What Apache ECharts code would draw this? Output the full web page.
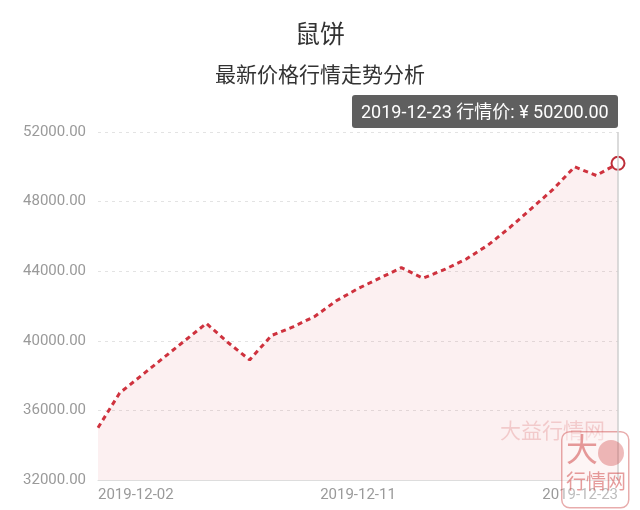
<!DOCTYPE html>
<html>
<head>
<meta charset="utf-8">
<script src="https://cdn.jsdelivr.net/npm/echarts@6/dist/echarts.min.js"></script>
<style>
html,body{margin:0;padding:0;background:#fff;}
#chart{width:640px;height:510px;}
</style>
</head>
<body>
<div id="chart"></div>
<script>
var titleText = '鼠饼';
var subTitleText = '最新价格行情走势分析';
var dates = ['2019-12-02','2019-12-02','2019-12-03','2019-12-03','2019-12-04','2019-12-05','2019-12-05','2019-12-06','2019-12-07','2019-12-08','2019-12-09','2019-12-10','2019-12-11','2019-12-12','2019-12-13','2019-12-14','2019-12-15','2019-12-16','2019-12-17','2019-12-18','2019-12-19','2019-12-20','2019-12-21','2019-12-22','2019-12-23'];
var prices = [35000,37000,38000,39000,40000,41000,39900,38900,40300,40800,41400,42300,43000,43600,44200,43600,44100,44700,45500,46500,47600,48700,50000,49500,50200];
var shownLabelIdx = [0,12,24];
var yMin = 32000, yMax = 52000, yStep = 4000;
var priceLabel = '行情价';
var watermarkText = '大益行情网';

var FONT = 'Roboto, "Noto Sans CJK SC", sans-serif';
var RED = '#bd2e39';
var chart = echarts.init(document.getElementById('chart'));
chart.setOption({
  animation: false,
  title: [
    {text: titleText, left: 'center', top: 19, textStyle: {fontSize: 25, fontWeight: 'normal', color: '#333', fontFamily: FONT}},
    {text: subTitleText, left: 'center', top: 61, textStyle: {fontSize: 21, fontWeight: 'normal', color: '#333', fontFamily: FONT}}
  ],
  grid: {left: 98, right: 22, top: 132, bottom: 30},
  tooltip: {
    trigger: 'axis',
    alwaysShowContent: true,
    transitionDuration: 0,
    backgroundColor: 'rgba(90,90,90,0.97)',
    borderWidth: 0,
    padding: [4, 9],
    textStyle: {color: '#fff', fontSize: 18, fontFamily: FONT, lineHeight: 25},
    extraCssText: 'border-radius:3px;box-shadow:none;line-height:25px;',
    axisPointer: {type: 'line', lineStyle: {color: '#cfcfcf', width: 1.5, type: 'solid'}},
    position: function (point, params, dom, rect, size) {
      return [618 - size.contentSize[0], 95];
    },
    formatter: function (params) {
      var p = params[0];
      return dates[p.dataIndex] + ' ' + priceLabel + ': ¥ ' + Number(p.value).toFixed(2);
    }
  },
  xAxis: {
    type: 'category',
    boundaryGap: false,
    data: dates,
    axisLine: {lineStyle: {color: '#dddddd', width: 1}},
    axisTick: {show: false},
    axisLabel: {
      interval: function (i) { return shownLabelIdx.indexOf(i) >= 0; },
      alignMinLabel: 'left',
      alignMaxLabel: 'right',
      color: '#9a9a9a',
      fontSize: 15,
      margin: 8,
      fontFamily: FONT
    },
    splitLine: {show: false}
  },
  yAxis: {
    type: 'value',
    min: yMin,
    max: yMax,
    interval: yStep,
    axisLine: {show: false},
    axisTick: {show: false},
    axisLabel: {
      formatter: function (v) { return v.toFixed(2); },
      color: '#9a9a9a',
      fontSize: 15,
      margin: 12,
      fontFamily: FONT
    },
    splitLine: {lineStyle: {color: '#e3e3e3', type: [3, 4], width: 1}}
  },
  graphic: [
    {type: 'text', left: 500, top: 422, z: 50, style: {text: watermarkText, fontSize: 21, fontFamily: FONT, fill: 'rgba(215,90,90,0.25)'}},
    {type: 'rect', left: 561, top: 431, z: 50, shape: {width: 67, height: 76, r: 8}, style: {fill: 'rgba(255,255,255,0.35)', stroke: 'rgba(205,70,70,0.45)', lineWidth: 1.5}},
    {type: 'text', left: 566, top: 437, z: 51, style: {text: '大', fontSize: 32, fontFamily: FONT, fill: 'rgba(205,60,60,0.5)'}},
    {type: 'circle', left: 598, top: 440, z: 51, shape: {r: 13}, style: {fill: 'rgba(205,60,60,0.35)', stroke: 'none'}},
    {type: 'text', left: 566, top: 474, z: 51, style: {text: '行情网', fontSize: 20, fontFamily: FONT, fill: 'rgba(205,60,60,0.5)'}}
  ],
  series: [{
    type: 'line',
    data: prices,
    symbol: 'emptyCircle',
    symbolSize: 13,
    showSymbol: false,
    itemStyle: {color: RED, borderColor: RED, borderWidth: 2.5},
    lineStyle: {color: RED, width: 3, type: [5, 4]},
    areaStyle: {color: 'rgba(200,60,70,0.11)'},
    emphasis: {scale: false}
  }]
});
chart.dispatchAction({type: 'showTip', seriesIndex: 0, dataIndex: prices.length - 1});
</script>
</body>
</html>
